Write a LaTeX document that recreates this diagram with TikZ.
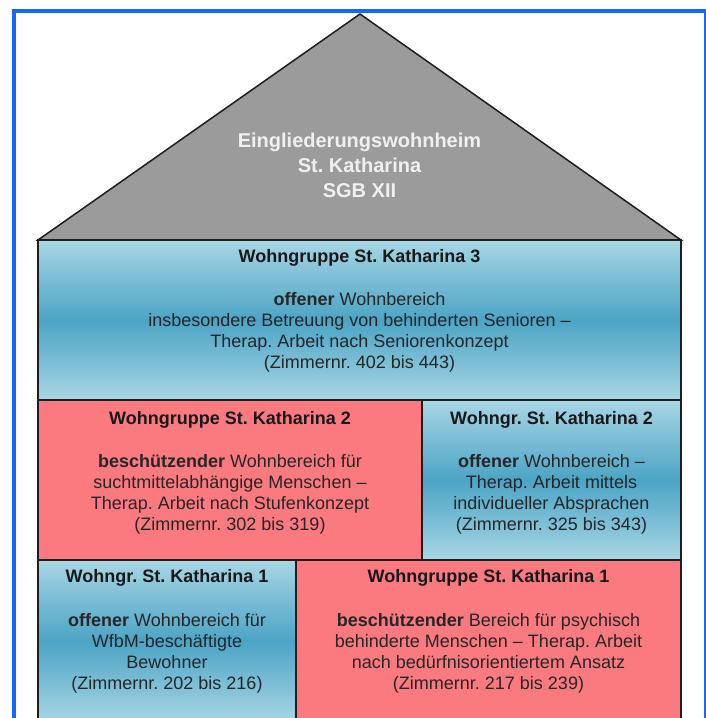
\documentclass[tikz,border=0pt]{standalone}
\usepackage{fontspec}
\setmainfont{Liberation Sans}
\frenchspacing
\definecolor{framebl}{RGB}{22,104,250}
\definecolor{roofgray}{RGB}{155,155,155}
\definecolor{lightbl}{RGB}{168,214,228}
\definecolor{darkbl}{RGB}{76,164,198}
\definecolor{pinkred}{RGB}{250,122,128}
\definecolor{wallline}{RGB}{30,30,30}
\tikzset{
  wall/.style={draw=wallline, line width=1.5pt},
  bluebox/.style={wall, top color=lightbl, bottom color=lightbl, middle color=darkbl},
  redbox/.style={wall, fill=pinkred},
  roofshape/.style={wall, fill=roofgray, line join=miter},
  headtext/.style={font=\fontsize{18}{21}\selectfont\bfseries, text=black!90, inner sep=0pt},
  bodytext/.style={font=\fontsize{18}{21}\selectfont, align=center, text=black!85, inner sep=0pt},
  rooftext/.style={font=\fontsize{20}{25}\selectfont\bfseries, align=center, text=white!94!black, inner sep=0pt},
  frameline/.style={draw=framebl, line width=4pt}
}
\begin{document}
\begin{tikzpicture}[x=1pt,y=-1pt]
\useasboundingbox (0,0) rectangle (706,718);
\fill[white] (0,0) rectangle (706,718);
\begin{scope}
\clip (0,0) rectangle (706,718);
% outer frame
\draw[frameline] (14,740) -- (14,11) -- (706,11) -- (706,740);
% roof
\draw[roofshape] (38,240) -- (360,14) -- (681,240) -- cycle;
% row 1
\draw[bluebox] (38,240) rectangle (681,400);
% row 2
\draw[redbox] (38,400) rectangle (422,560);
\draw[bluebox] (422,400) rectangle (681,560);
% row 3
\draw[bluebox] (38,560) rectangle (296,722);
\draw[redbox] (296,560) rectangle (681,722);
\end{scope}
% texts
\node[rooftext] (roof) at (359.5,165) {Eingliederungswohnheim\\St. Katharina\\SGB XII};
\node[headtext] (h3) at (359.5,258) {Wohngruppe St. Katharina 3};
\node[bodytext] (b3) at (359.5,332) {\textbf{offener} Wohnbereich\\insbesondere Betreuung von behinderten Senioren –\\Therap. Arbeit nach Seniorenkonzept\\(Zimmernr. 402 bis 443)};
\node[headtext] (h2a) at (230,420) {Wohngruppe St. Katharina 2};
\node[bodytext] (b2a) at (230,494) {\textbf{beschützender} Wohnbereich für\\suchtmittelabhängige Menschen –\\Therap. Arbeit nach Stufenkonzept\\(Zimmernr. 302 bis 319)};
\node[headtext] (h2b) at (551.5,420) {Wohngr. St. Katharina 2};
\node[bodytext] (b2b) at (551.5,494) {\textbf{offener} Wohnbereich –\\Therap. Arbeit mittels\\individueller Absprachen\\(Zimmernr. 325 bis 343)};
\node[headtext] (h1a) at (167,578) {Wohngr. St. Katharina 1};
\node[bodytext] (b1a) at (167,653) {\textbf{offener} Wohnbereich für\\WfbM-beschäftigte\\Bewohner\\(Zimmernr. 202 bis 216)};
\node[headtext] (h1b) at (488.5,578) {Wohngruppe St. Katharina 1};
\node[bodytext] (b1b) at (488.5,653) {\textbf{beschützender} Bereich für psychisch\\behinderte Menschen – Therap. Arbeit\\nach bedürfnisorientiertem Ansatz\\(Zimmernr. 217 bis 239)};
\end{tikzpicture}
\end{document}
